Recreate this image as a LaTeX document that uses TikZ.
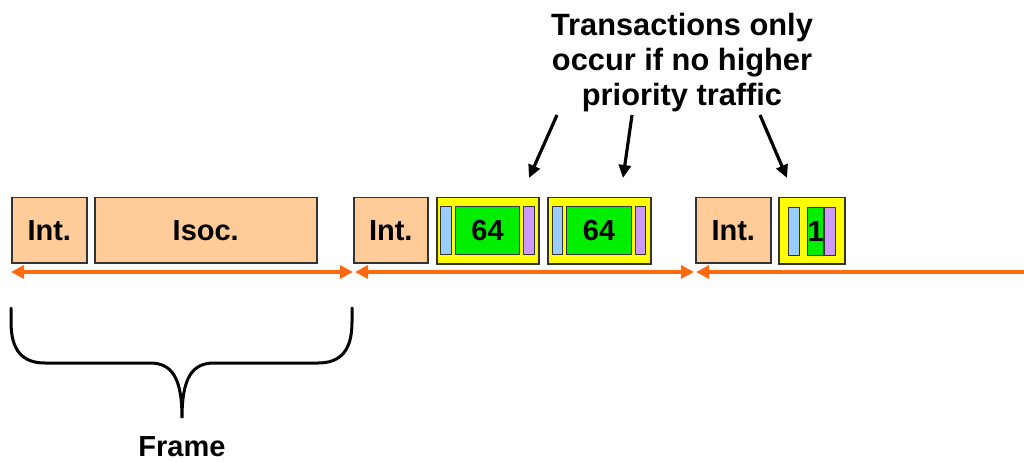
\documentclass[tikz,border=0pt]{standalone}
\usepackage{fontspec}
\setmainfont{Liberation Sans}
\usetikzlibrary{arrows.meta}
\definecolor{peach}{HTML}{FFCC99}
\definecolor{boxline}{HTML}{333333}
\definecolor{pktyellow}{HTML}{FFFF00}
\definecolor{pktgreen}{HTML}{00EE00}
\definecolor{pktblue}{HTML}{99CCFF}
\definecolor{pktpurple}{HTML}{CC99FF}
\definecolor{wireorange}{HTML}{FF6A10}
\begin{document}
\begin{tikzpicture}[x=1pt,y=-1pt,
  lbl/.style={font=\bfseries\fontsize{29}{33}\selectfont},
  slot/.style={draw=boxline, line width=1.5pt, fill=peach, inner sep=0pt,
    anchor=north west, minimum height=65pt, lbl},
  pkt/.style={draw=boxline, line width=1.5pt, fill=pktyellow, inner sep=0pt,
    anchor=north west, minimum height=66pt},
  strip/.style={draw=boxline, line width=1.2pt, inner sep=0pt,
    anchor=north west, minimum height=48pt},
  hdr/.style={strip, fill=pktblue},
  crc/.style={strip, fill=pktpurple},
  dat/.style={strip, fill=pktgreen, lbl},
  span/.style={draw=wireorange, line width=3.5pt,
    {Triangle[length=13pt,width=13pt]}-{Triangle[length=13pt,width=13pt]}},
  spanopen/.style={draw=wireorange, line width=3.5pt,
    {Triangle[length=13pt,width=13pt]}-},
  pointer/.style={draw=black, line width=3.2pt,
    -{Triangle[length=13pt,width=12pt]}},
  brace/.style={draw=black, line width=3pt, line cap=round}
]
\path[use as bounding box] (0,0) rectangle (1024,462);

% frame 1
\node[slot, minimum width=75pt] (int1) at (11,197) {Int.};
\node[slot, minimum width=222pt] (isoc) at (94,197) {Isoc.};

% frame 2
\node[slot, minimum width=74pt] (int2) at (353,197) {Int.};
\node[pkt, minimum width=102pt] (p1) at (436,197) {};
\node[hdr, minimum width=11pt] (p1h) at (440,206) {};
\node[dat, minimum width=64pt] (p1d) at (455,206) {64};
\node[crc, minimum width=11pt] (p1c) at (523,206) {};
\node[pkt, minimum width=103pt] (p2) at (547,197) {};
\node[hdr, minimum width=10pt] (p2h) at (552,206) {};
\node[dat, minimum width=65pt] (p2d) at (566,206) {64};
\node[crc, minimum width=10pt] (p2c) at (635,206) {};

% frame 3
\node[slot, minimum width=75pt] (int3) at (695,197) {Int.};
\node[pkt, minimum width=66pt] (p3) at (778,197) {};
\node[hdr, minimum width=11pt] (p3h) at (788,207) {};
\node[dat, minimum width=13pt] (p3d) at (807,207) {1};
\node[crc, minimum width=11pt] (p3c) at (824,207) {};

% frame boundaries on the time line
\coordinate (t0) at (11,272);
\coordinate (t1) at (353,272);
\coordinate (t1b) at (355,272);
\coordinate (t2) at (694,272);
\coordinate (t2b) at (696,272);
\coordinate (t3) at (1024,272);
\draw[span] (t0) -- (t1);
\draw[span] (t1b) -- (t2);
\draw[spanopen] (t2b) -- (t3);

% frame brace
\coordinate (bl) at (11,308);
\coordinate (br) at (352,308);
\coordinate (btip) at (182,418);
\draw[brace] (bl) -- (11,322) .. controls (11,350) and (22,363) .. (45,363)
  -- (150,363) .. controls (172,363) and (182,378) .. (btip)
  .. controls (182,378) and (192,363) .. (214,363)
  -- (318,363) .. controls (341,363) and (352,350) .. (352,322) -- (br);
\node[lbl] (frame) at (182,447) {Frame};

% note with pointers
\node[align=center, inner sep=0pt, font=\bfseries\fontsize{30.8}{35}\selectfont]
  (note) at (682,63) {Transactions only\\occur if no higher\\priority traffic};
\coordinate (a1s) at (557,115);
\coordinate (a1e) at (529,178);
\coordinate (a2s) at (632,115);
\coordinate (a2e) at (623,178);
\coordinate (a3s) at (760,115);
\coordinate (a3e) at (787,178);
\draw[pointer] (a1s) -- (a1e);
\draw[pointer] (a2s) -- (a2e);
\draw[pointer] (a3s) -- (a3e);
\end{tikzpicture}
\end{document}
